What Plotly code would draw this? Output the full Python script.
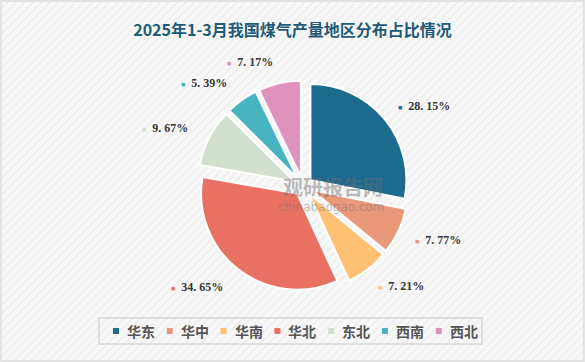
import math
import plotly.graph_objects as go

regions = ["华东", "华中", "华南", "华北", "东北", "西南", "西北"]
shares = [28.15, 7.77, 7.21, 34.65, 9.67, 5.39, 7.17]
colors = ["#1c6b8e", "#e9997a", "#ffc274", "#e87163", "#d3e0cf", "#47b4c0", "#de92bc"]
title_text = "2025年1-3月我国煤气产量地区分布占比情况"

W, H = 585, 362
# pie geometry (pixels)
CX, CY, R = 303, 186, 96
PULL = 0.1
D = R * (1 + PULL)
LABEL_R = 127

stripe_svg = (
    "data:image/svg+xml;utf8,"
    "<svg xmlns='http://www.w3.org/2000/svg' width='585' height='362'>"
    "<defs><pattern id='p' width='6' height='6' patternUnits='userSpaceOnUse' patternTransform='rotate(45)'>"
    "<rect width='6' height='6' fill='%23f8f8f8'/><rect width='2' height='6' fill='%23efefef'/></pattern></defs>"
    "<rect width='585' height='362' fill='url(%23p)'/></svg>"
)

fig = go.Figure(
    go.Pie(
        labels=regions,
        values=shares,
        textinfo="none",
        sort=False,
        direction="clockwise",
        rotation=0,
        pull=PULL,
        marker=dict(colors=colors, line=dict(color="white", width=2)),
        domain=dict(x=[(CX - D) / W, (CX + D) / W], y=[1 - (CY + D) / H, 1 - (CY - D) / H]),
        hoverinfo="label+percent",
        showlegend=False,
    )
)

annotations = []
# value labels positioned from the cumulative shares
total = sum(shares)
cum = 0.0
for name, v, c in zip(regions, shares, colors):
    mid = (cum + v / 2) / total * 2 * math.pi
    cum += v
    sx, sy = math.sin(mid), math.cos(mid)
    right = sx >= 0
    px = CX + LABEL_R * sx + (-5 if right else 0)
    py = CY - LABEL_R * sy
    txt = f"<span style='color:{c};font-size:7px'>■</span>  <b>{v:.2f}%</b>".replace(".", ". ")
    annotations.append(
        dict(
            text=txt,
            x=px / W,
            y=1 - py / H,
            xref="paper",
            yref="paper",
            xanchor="left" if right else "right",
            yanchor="middle",
            showarrow=False,
            font=dict(family="Liberation Serif, DejaVu Serif", size=12, color="#363636"),
        )
    )

# legend built from the categories
LEG_X0, LEG_STEP, LEG_Y = 113, 53.8, 331
shapes = []
for i, (name, c) in enumerate(zip(regions, colors)):
    mx = LEG_X0 + i * LEG_STEP
    shapes.append(
        dict(type="rect", xref="paper", yref="paper",
             x0=mx / W, x1=(mx + 6) / W, y0=1 - (LEG_Y + 3) / H, y1=1 - (LEG_Y - 3) / H,
             fillcolor=c, line=dict(width=0))
    )
    annotations.append(
        dict(
            text=f"<b>{name}</b>",
            x=(mx + 12) / W,
            y=1 - LEG_Y / H,
            xref="paper",
            yref="paper",
            xanchor="left",
            yanchor="middle",
            showarrow=False,
            font=dict(family="Noto Sans CJK SC", size=14, color="#555555"),
        )
    )
shapes.append(
    dict(type="rect", xref="paper", yref="paper",
         x0=99 / W, x1=482 / W, y0=1 - 344 / H, y1=1 - 318 / H,
         line=dict(color="#d8d8d8", width=1.5))
)
shapes.append(
    dict(type="rect", xref="paper", yref="paper",
         x0=0.002, y0=0.003, x1=0.998, y1=0.997,
         line=dict(color="#e2e2e2", width=2))
)

# watermark
annotations.append(
    dict(text="<b>观研报告网</b>", x=333 / W, y=1 - 187 / H, xref="paper", yref="paper",
         showarrow=False, font=dict(family="Noto Sans CJK SC", size=20, color="rgba(110,110,110,0.45)"))
)
annotations.append(
    dict(text="chinabaogao.com", x=331 / W, y=1 - 207 / H, xref="paper", yref="paper",
         showarrow=False, font=dict(family="DejaVu Sans", size=12, color="rgba(110,110,110,0.45)"))
)

fig.update_layout(
    width=W,
    height=H,
    margin=dict(l=0, r=0, t=0, b=0),
    paper_bgcolor="#f6f6f6",
    plot_bgcolor="#f6f6f6",
    showlegend=False,
    title=dict(
        text=f"<b>{title_text}</b>",
        x=0.5,
        xanchor="center",
        y=1 - 30 / H,
        yanchor="middle",
        font=dict(family="Noto Sans CJK SC", size=16, color="#1e5b78"),
    ),
    images=[
        dict(source=stripe_svg, xref="paper", yref="paper", x=0, y=1, sizex=1, sizey=1,
             xanchor="left", yanchor="top", sizing="stretch", layer="below")
    ],
    shapes=shapes,
    annotations=annotations,
)

fig.write_html(
    "out.html",
    config={"displayModeBar": False},
    post_script="document.body.style.margin='0';",
)
